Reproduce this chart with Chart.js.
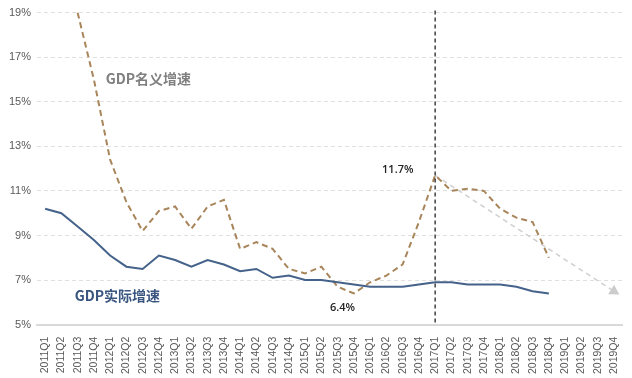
<!DOCTYPE html>
<html><head><meta charset="utf-8">
<script src="https://cdn.jsdelivr.net/npm/chart.js@4/dist/chart.umd.min.js"></script>
<style>html,body{margin:0;padding:0;background:#fff}#wrap{width:632px;height:378px}</style>
</head><body><div id="wrap"><canvas id="c" width="632" height="378"></canvas></div>
<script>
const categories = [];
for (let y = 2011; y <= 2019; y++) for (let q = 1; q <= 4; q++) categories.push(y + 'Q' + q);
const nominalGrowth = [null, null, 19.0, 16.0, 12.4, 10.5, 9.2, 10.1, 10.3, 9.3, 10.3, 10.6,
  8.4, 8.7, 8.4, 7.5, 7.3, 7.6, 6.7, 6.4, 6.9, 7.2, 7.7, 9.6,
  11.7, 11.0, 11.1, 11.0, 10.2, 9.8, 9.6, 8.0, null, null, null, null];
const realGrowth = [10.2, 10.0, 9.4, 8.8, 8.1, 7.6, 7.5, 8.1, 7.9, 7.6, 7.9, 7.7,
  7.4, 7.5, 7.1, 7.2, 7.0, 7.0, 6.9, 6.8, 6.7, 6.7, 6.7, 6.8,
  6.9, 6.9, 6.8, 6.8, 6.8, 6.7, 6.5, 6.4, null, null, null, null];
const trendLine = categories.map(c => c === '2017Q1' ? 11.7 : (c === '2019Q4' ? 6.5 : null));
const yTicks = [5, 7, 9, 11, 13, 15, 17, 19];
const markerCategory = '2017Q1';
// pos = category index position (fractional allowed), val = y value
const annotations = [
  {pos: 21.7, val: 11.95, text: '11.7%', color: '#222', font: '600 11px "Open Sans", sans-serif'},
  {pos: 18.3, val: 5.75, text: '6.4%', color: '#222', font: '600 11px "Open Sans", sans-serif'},
  {pos: 6.35, val: 16.05, text: 'GDP名义增速', color: '#808080', font: 'bold 14px "Noto Sans CJK SC", sans-serif'},
  {pos: 4.45, val: 6.3, text: 'GDP实际增速', color: '#3a5680', font: 'bold 14px "Noto Sans CJK SC", sans-serif'}
];

const overlay = {
  id: 'overlay',
  afterDatasetsDraw(chart) {
    const {ctx, scales: {x, y}, chartArea} = chart;
    ctx.save();
    const vx = x.getPixelForValue(categories.indexOf(markerCategory));
    ctx.strokeStyle = '#111';
    ctx.lineWidth = 1.2;
    ctx.setLineDash([4, 3]);
    ctx.beginPath();
    ctx.moveTo(vx, chartArea.top - 2);
    ctx.lineTo(vx, chartArea.bottom);
    ctx.stroke();
    ctx.setLineDash([]);
    ctx.textAlign = 'center';
    ctx.textBaseline = 'middle';
    annotations.forEach(a => {
      ctx.font = a.font;
      ctx.fillStyle = a.color;
      ctx.fillText(a.text, x.getPixelForValue(a.pos), y.getPixelForValue(a.val));
    });
    ctx.restore();
  }
};

new Chart(document.getElementById('c'), {
  type: 'line',
  data: {
    labels: categories,
    datasets: [
      {label: 'trend', data: trendLine, spanGaps: true, borderColor: '#cfcfcf', borderWidth: 1.5,
       borderDash: [5, 4], pointRadius: categories.map(c => c === '2019Q4' ? 5 : 0),
       pointStyle: 'triangle', pointRotation: 122, pointBackgroundColor: '#cccccc', pointBorderColor: '#cccccc', order: 3},
      {label: 'GDP名义增速', data: nominalGrowth, borderColor: '#a8855a', borderWidth: 2,
       borderDash: [6, 4], pointRadius: 0, tension: 0, order: 2},
      {label: 'GDP实际增速', data: realGrowth, borderColor: '#44628a', borderWidth: 2,
       pointRadius: 0, tension: 0, order: 1}
    ]
  },
  options: {
    responsive: false,
    animation: false,
    layout: {padding: {top: 4, right: 10, left: 0, bottom: 0}},
    plugins: {legend: {display: false}, tooltip: {enabled: false}},
    scales: {
      x: {
        offset: true,
        grid: {display: false},
        border: {color: '#d9d9d9', width: 2},
        ticks: {minRotation: 90, maxRotation: 90, autoSkip: false, color: '#595959',
                font: {size: 10.5, family: 'Liberation Sans'}, padding: 4}
      },
      y: {
        min: 5, max: 19,
        afterBuildTicks(s) { s.ticks = yTicks.map(v => ({value: v})); },
        afterFit(s) { s.width = 37; },
        grid: {color: c => c.tick.value === 5 ? 'rgba(0,0,0,0)' : '#e0e0e0', drawTicks: false},
        border: {display: false, dash: [4, 3]},
        ticks: {color: '#595959', font: {size: 11, family: 'Liberation Sans'}, padding: 6,
                callback: v => v + '%'}
      }
    }
  },
  plugins: [overlay]
});
</script></body></html>
